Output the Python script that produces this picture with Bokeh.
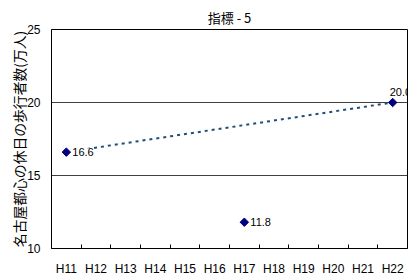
import math
from bokeh.plotting import figure
from bokeh.models import FixedTicker, ColumnDataSource, LabelSet, Range1d, Title
from bokeh.core.properties import value
from bokeh.embed import file_html
from bokeh.resources import INLINE

years = ["H11", "H12", "H13", "H14", "H15", "H16", "H17", "H18", "H19", "H20", "H21", "H22"]
point_years = ["H11", "H17", "H22"]
point_values = [16.6, 11.8, 20.0]
target_years = ["H11", "H22"]
target_values = [16.6, 20.0]
y_ticks = [10, 15, 20, 25]
grid_values = [15, 20]

FONT = "'Liberation Sans', 'Noto Sans CJK JP', sans-serif"
JFONT = "'Noto Sans CJK JP', 'Liberation Sans', sans-serif"

def xpos(names):
    return [years.index(n) + 0.5 for n in names]

p = figure(width=412, height=278, output_backend="svg", toolbar_location=None,
           x_range=Range1d(0, len(years)), y_range=Range1d(10, 25),
           min_border_left=51, min_border_right=5, min_border_top=29, min_border_bottom=29)

p.title = Title(text="指標 - 5", align="center", text_font=JFONT, text_font_size="13px",
                text_font_style="normal", text_color="#000000", standoff=5)

p.outline_line_color = "#000000"
p.outline_line_width = 1
p.background_fill_color = "white"
p.border_fill_color = "white"

# x axis
xa = p.xaxis[0]
xa.ticker = FixedTicker(ticks=[i + 0.5 for i in range(len(years))],
                        minor_ticks=list(range(1, len(years))))
xa.major_label_overrides = {i + 0.5: y for i, y in enumerate(years)}
xa.major_tick_line_color = None
xa.major_tick_in = 0
xa.major_tick_out = 0
xa.minor_tick_in = 4
xa.minor_tick_out = 0
xa.minor_tick_line_color = "#000000"
xa.axis_line_color = "#000000"
xa.major_label_text_font = FONT
xa.major_label_text_font_size = "12px"
xa.major_label_text_color = "#000000"
xa.major_label_standoff = 13

# y axis
ya = p.yaxis[0]
ya.ticker = FixedTicker(ticks=y_ticks)
ya.major_tick_line_color = None
ya.major_tick_in = 0
ya.major_tick_out = 0
ya.minor_tick_line_color = None
ya.minor_tick_in = 0
ya.minor_tick_out = 0
ya.axis_line_color = "#000000"
ya.major_label_text_font = FONT
ya.major_label_text_font_size = "12px"
ya.major_label_text_color = "#000000"
ya.major_label_standoff = 11
ya.axis_label = "名古屋都心の休日の歩行者数(万人)"
ya.axis_label_text_font = JFONT
ya.axis_label_text_font_size = "13.8px"
ya.axis_label_text_font_style = "normal"
ya.axis_label_text_color = "#000000"
ya.axis_label_standoff = -5

p.xgrid.grid_line_color = None
p.ygrid.ticker = FixedTicker(ticks=grid_values)
p.ygrid.grid_line_color = "#404040"
p.ygrid.grid_line_width = 1

# target dashed line
p.line(xpos(target_years), target_values, line_color="#1f4e79", line_width=2,
       line_dash="3 4")

src = ColumnDataSource(dict(x=xpos(point_years), y=point_values,
                            lab=[f"{v:.1f}" for v in point_values]))
p.scatter("x", "y", source=src, marker="square", angle=math.pi / 4, size=6,
          fill_color="#000080", line_color="#000080")

labels = LabelSet(x="x", y="y", text="lab", source=ColumnDataSource(dict(
    x=xpos(point_years[:2]), y=point_values[:2],
    lab=[f"{v:.1f}" for v in point_values[:2]])),
    x_offset=6, y_offset=0, text_baseline="middle", text_align="left",
    text_font=value(FONT), text_font_size=value("11px"), text_color="#000000",
    background_fill_color="white")
p.add_layout(labels)

labels2 = LabelSet(x="x", y="y", text="lab", source=ColumnDataSource(dict(
    x=xpos(point_years[2:]), y=point_values[2:],
    lab=[f"{v:.1f}" for v in point_values[2:]])),
    x_offset=-3, y_offset=7, text_baseline="bottom", text_align="left",
    text_font=value(FONT), text_font_size=value("11px"), text_color="#000000")
p.add_layout(labels2)

open("out.html", "w").write(file_html(p, INLINE))
